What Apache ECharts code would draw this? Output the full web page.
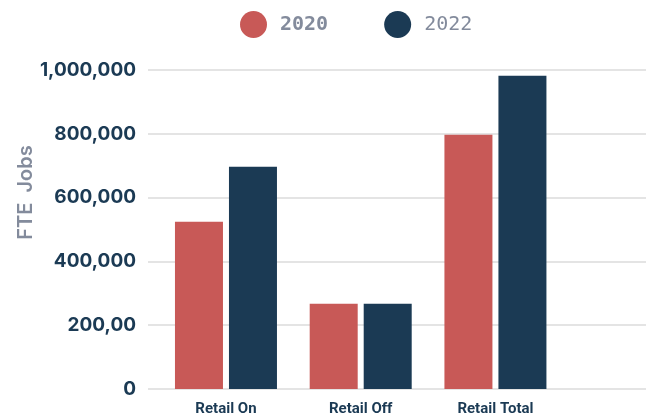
<!DOCTYPE html>
<html><head><meta charset="utf-8">
<script src="https://cdn.jsdelivr.net/npm/echarts@6/dist/echarts.min.js"></script>
<style>html,body{margin:0;padding:0;background:#fff}#c{width:652px;height:417px}</style>
</head><body><div id="c"></div>
<script>
const categories = ['Retail On', 'Retail Off', 'Retail Total'];
const series2020 = [524000, 267000, 797000];
const series2022 = [697000, 267000, 982000];
const seriesNames = ['2020', '2022'];
const yTickLabels = ['0', '200,00', '400,000', '600,000', '800,000', '1,000,000'];
const yAxisTitle = 'FTE  Jobs';

const RED = '#c85957', NAVY = '#1b3a54', GRAY = '#838b9c';
const chart = echarts.init(document.getElementById('c'), null, {renderer: 'canvas'});
chart.setOption({
  animation: false,
  legend: {
    left: 235, top: 6, itemWidth: 27, itemHeight: 27, icon: 'circle', itemGap: 56,
    textStyle: {fontFamily: 'DejaVu Sans Mono', fontSize: 20, color: GRAY, padding: [0, 0, 0, 8]},
    data: [{name: seriesNames[0], textStyle: {fontWeight: 'bold'}}, {name: seriesNames[1], textStyle: {fontWeight: 'normal'}}]
  },
  grid: [
    {left: 148, right: 6, top: 70, bottom: 28, containLabel: false},
    {left: 158.6, width: 404.2, top: 70, bottom: 28, containLabel: false}
  ],
  xAxis: [
    {gridIndex: 0, type: 'value', min: 0, max: 1, show: false},
    {gridIndex: 1, type: 'category', data: categories,
     axisLine: {show: false}, axisTick: {show: false},
     axisLabel: {color: NAVY, fontFamily: 'Roboto', fontWeight: 'bold', fontSize: 15, margin: 13}}
  ],
  yAxis: [
    {gridIndex: 0, type: 'value', min: 0, max: 1000000, interval: 200000,
     axisLine: {show: false}, axisTick: {show: false},
     splitLine: {lineStyle: {color: '#e4e4e4', width: 2}},
     axisLabel: {color: NAVY, fontFamily: 'Inter', fontWeight: 'bold', fontSize: 19, margin: 12,
       padding: [0, 0, 11, 0],
       formatter: v => yTickLabels[Math.round(v / 200000)]},
     name: yAxisTitle, nameLocation: 'middle', nameGap: 112, nameRotate: 90, nameMoveOverlap: false,
     nameTextStyle: {color: GRAY, fontFamily: 'Inter', fontWeight: 600, fontSize: 20, padding: [0, 0, 0, 74]}},
    {gridIndex: 1, type: 'value', min: 0, max: 1000000, show: false}
  ],
  series: [
    {name: seriesNames[0], type: 'bar', xAxisIndex: 1, yAxisIndex: 1, data: series2020,
     barWidth: 48, barGap: '12.5%', itemStyle: {color: RED}},
    {name: seriesNames[1], type: 'bar', xAxisIndex: 1, yAxisIndex: 1, data: series2022,
     barWidth: 48, barGap: '12.5%', itemStyle: {color: NAVY}}
  ]
});
</script></body></html>
